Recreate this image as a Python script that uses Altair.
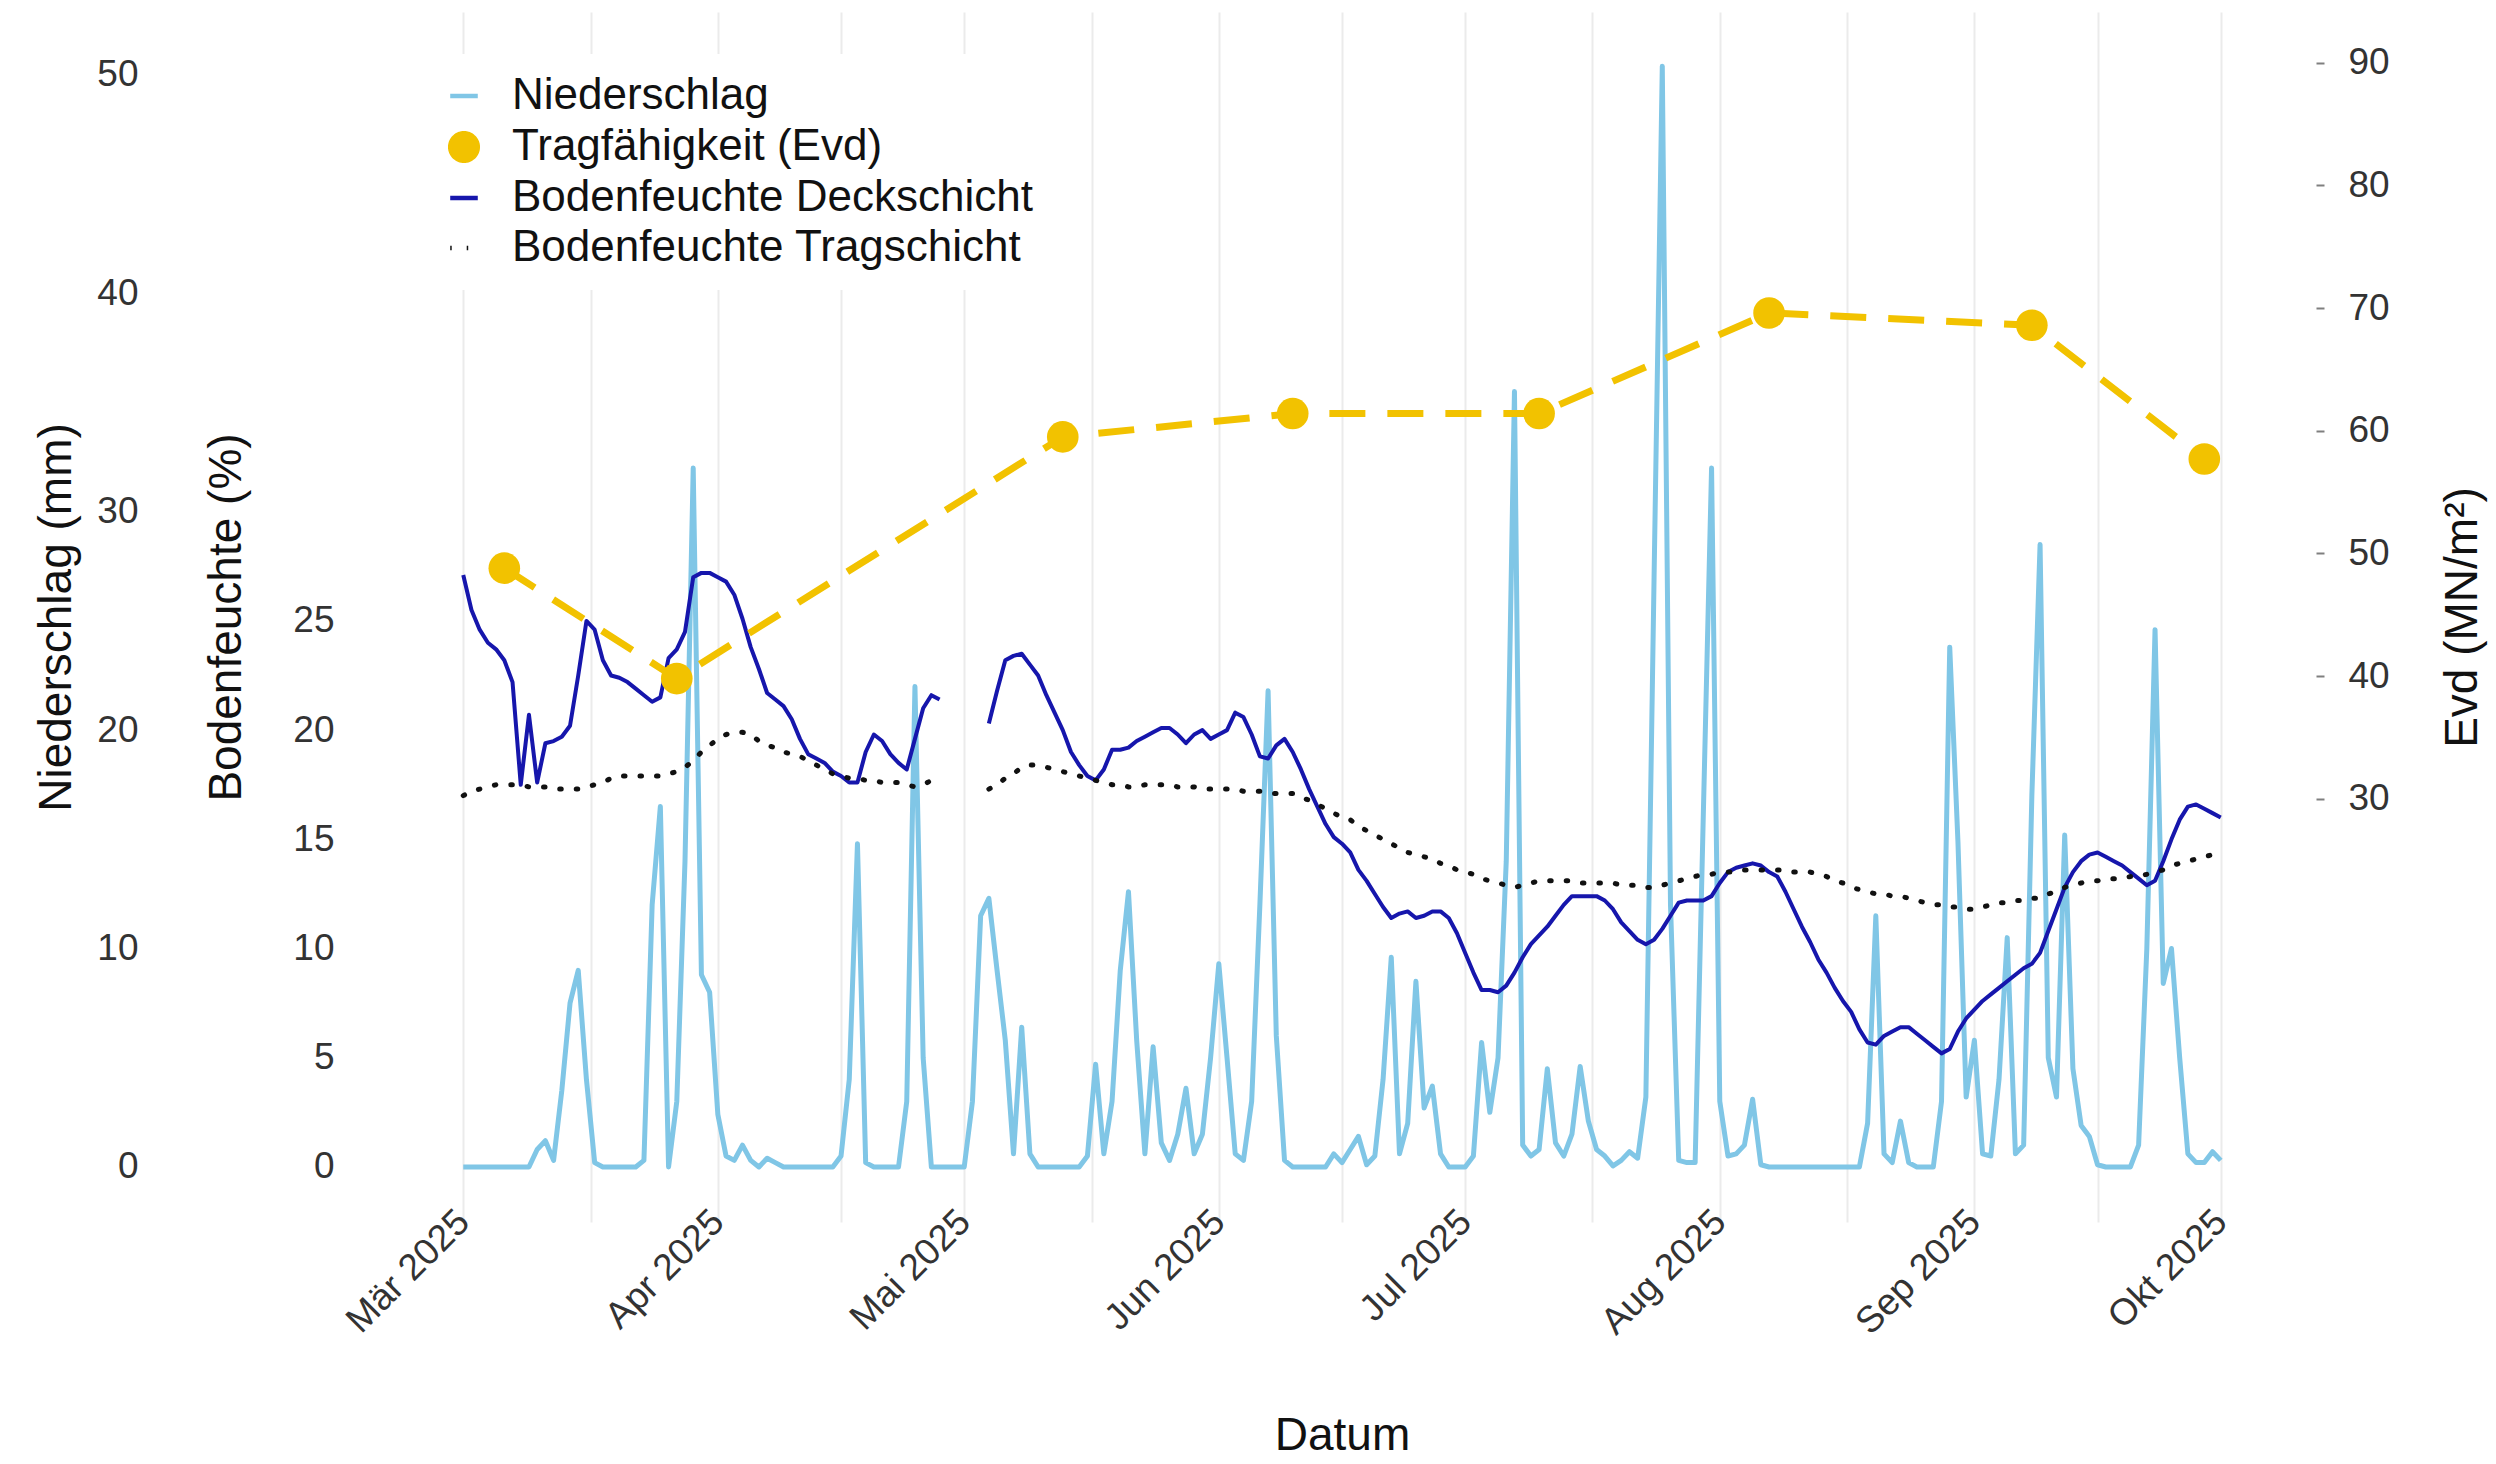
import json
import altair as alt
import pandas as pd

FONT = "Liberation Sans"
START_DATE = "2025-03-01"

SERIES = ["Niederschlag", "Tragfähigkeit (Evd)", "Bodenfeuchte Deckschicht", "Bodenfeuchte Tragschicht"]
COLORS = ["#80C6E6", "#F2C200", "#1616AC", "#111111"]
SHAPES = ["stroke", "circle", "stroke", "stroke"]
DASHES = [[1, 0], [1, 0], [1, 0], [1.5, 15]]
MONTH_NAMES = ["Jan", "Feb", "Mär", "Apr", "Mai", "Jun", "Jul", "Aug", "Sep", "Okt", "Nov", "Dez"]
MM_TICKS = [0, 10, 20, 30, 40, 50]
BF_TICKS = [0, 5, 10, 15, 20, 25]
EVD_TICKS = [30, 40, 50, 60, 70, 80, 90]
# vertical grid lines: month starts (labelled) and mid-months
GRID_MAJOR = ["2025-03-01", "2025-04-01", "2025-05-01", "2025-06-01",
              "2025-07-01", "2025-08-01", "2025-09-01", "2025-10-01"]
GRID_MINOR = ["2025-03-16 12:00", "2025-04-16 00:00", "2025-05-16 12:00", "2025-06-16 00:00",
              "2025-07-16 12:00", "2025-08-16 12:00", "2025-09-16 00:00"]
X_RANGE = ["2025-02-18 09:00", "2025-10-11 15:00"]

# daily precipitation (mm), 1 Mar 2025 .. 1 Oct 2025
precip_mm = [
    0, 0, 0, 0, 0, 0, 0, 0, 0, 0.8,
    1.2, 0.3, 3.5, 7.5, 9.0, 4.0, 0.2, 0, 0, 0,
    0, 0, 0.3, 12.0, 16.5, 0, 3.0, 14.0, 32.0, 8.8,
    8.0, 2.4, 0.5, 0.3, 1.0, 0.3, 0, 0.4, 0.2, 0,
    0, 0, 0, 0, 0, 0, 0.5, 4.0, 14.8, 0.2,
    0, 0, 0, 0, 3.0, 22.0, 5.0, 0, 0, 0,
    0, 0, 3.0, 11.5, 12.3, 9.0, 5.8, 0.6, 6.4, 0.6,
    0, 0, 0, 0, 0, 0, 0.5, 4.7, 0.6, 3.0,
    9.0, 12.6, 5.8, 0.6, 5.5, 1.1, 0.3, 1.5, 3.6, 0.6,
    1.5, 5.0, 9.3, 5.0, 0.6, 0.3, 3.0, 12.0, 21.8, 6.0,
    0.3, 0, 0, 0, 0, 0, 0.6, 0.2, 0.8, 1.4,
    0.1, 0.5, 4.0, 9.6, 0.6, 2.0, 8.5, 2.7, 3.7, 0.6,
    0, 0, 0, 0.5, 5.7, 2.5, 5.0, 14.0, 35.5, 1.0,
    0.5, 0.8, 4.5, 1.1, 0.5, 1.5, 4.6, 2.1, 0.8, 0.5,
    0.05, 0.3, 0.7, 0.4, 3.2, 27.0, 50.4, 12.0, 0.3, 0.2,
    0.2, 16.2, 32.0, 3.0, 0.5, 0.6, 1.0, 3.1, 0.1, 0,
    0, 0, 0, 0, 0, 0, 0, 0, 0, 0,
    0, 2.0, 11.5, 0.6, 0.2, 2.1, 0.2, 0, 0, 0,
    3.0, 23.8, 14.9, 3.2, 5.8, 0.6, 0.5, 4.0, 10.5, 0.6,
    1.0, 17.0, 28.5, 5.0, 3.2, 15.2, 4.5, 1.9, 1.4, 0.1,
    0, 0, 0, 0, 1.0, 10.0, 24.6, 8.4, 10.0, 5.0,
    0.6, 0.2, 0.2, 0.7, 0.3,
]

# soil moisture top layer (%), None = no measurement
deckschicht = [
    27.1, 25.5, 24.6, 24.0, 23.7, 23.2, 22.2, 17.5, 20.7, 17.6,
    19.4, 19.5, 19.7, 20.2, 22.5, 25.0, 24.6, 23.2, 22.5, 22.4,
    22.2, 21.9, 21.6, 21.3, 21.5, 23.3, 23.7, 24.5, 27.0, 27.2,
    27.2, 27.0, 26.8, 26.2, 25.1, 23.8, 22.8, 21.7, 21.4, 21.1,
    20.5, 19.6, 18.9, 18.7, 18.5, 18.1, 17.9, 17.6, 17.6, 19.0,
    19.8, 19.5, 18.9, 18.5, 18.2, 19.6, 21.0, 21.6, 21.4, None,
    None, None, None, None, 20.3, 21.8, 23.2, 23.4, 23.5, 23.0,
    22.5, 21.6, 20.8, 20.0, 19.0, 18.4, 17.9, 17.7, 18.2, 19.1,
    19.1, 19.2, 19.5, 19.7, 19.9, 20.1, 20.1, 19.8, 19.4, 19.8,
    20.0, 19.6, 19.8, 20.0, 20.8, 20.6, 19.8, 18.8, 18.7, 19.3,
    19.6, 19.0, 18.2, 17.3, 16.5, 15.7, 15.1, 14.8, 14.4, 13.6,
    13.1, 12.5, 11.9, 11.4, 11.6, 11.7, 11.4, 11.5, 11.7, 11.7,
    11.4, 10.7, 9.8, 8.9, 8.1, 8.1, 8.0, 8.3, 8.9, 9.6,
    10.2, 10.6, 11.0, 11.5, 12.0, 12.4, 12.4, 12.4, 12.4, 12.2,
    11.8, 11.2, 10.8, 10.4, 10.2, 10.4, 10.9, 11.5, 12.1, 12.2,
    12.2, 12.2, 12.4, 13.0, 13.5, 13.7, 13.8, 13.9, 13.8, 13.5,
    13.3, 12.6, 11.8, 11.0, 10.3, 9.5, 8.9, 8.2, 7.6, 7.1,
    6.3, 5.7, 5.6, 6.0, 6.2, 6.4, 6.4, 6.1, 5.8, 5.5,
    5.2, 5.4, 6.2, 6.8, 7.2, 7.6, 7.9, 8.2, 8.5, 8.8,
    9.1, 9.3, 9.8, 10.8, 11.8, 12.8, 13.5, 14.0, 14.3, 14.4,
    14.2, 14.0, 13.8, 13.5, 13.2, 12.9, 13.1, 14.0, 15.0, 15.9,
    16.5, 16.6, 16.4, 16.2, 16.0,
]

# soil moisture base layer (%)
tragschicht = [
    17.0, 17.2, 17.3, 17.4, 17.5, 17.5, 17.5, 17.5, 17.4, 17.4,
    17.4, 17.3, 17.3, 17.3, 17.3, 17.4, 17.5, 17.6, 17.8, 17.9,
    17.9, 17.9, 17.9, 17.9, 17.9, 18.0, 18.1, 18.3, 18.6, 19.0,
    19.3, 19.6, 19.8, 19.9, 19.9, 19.8, 19.5, 19.3, 19.2, 19.0,
    18.9, 18.8, 18.6, 18.4, 18.2, 18.0, 17.9, 17.8, 17.8, 17.7,
    17.7, 17.6, 17.6, 17.6, 17.5, 17.4, 17.5, 17.7, 17.8, None,
    None, None, None, None, 17.3, 17.5, 17.8, 18.0, 18.3, 18.4,
    18.4, 18.3, 18.2, 18.1, 18.0, 17.9, 17.8, 17.7, 17.6, 17.5,
    17.5, 17.4, 17.4, 17.5, 17.5, 17.5, 17.5, 17.4, 17.4, 17.4,
    17.3, 17.3, 17.3, 17.3, 17.3, 17.2, 17.2, 17.2, 17.1, 17.1,
    17.1, 17.1, 16.9, 16.8, 16.6, 16.4, 16.2, 16.0, 15.9, 15.6,
    15.4, 15.2, 15.0, 14.8, 14.6, 14.4, 14.3, 14.2, 14.1, 13.9,
    13.8, 13.6, 13.5, 13.4, 13.2, 13.1, 13.0, 12.9, 12.8, 12.9,
    13.0, 13.1, 13.1, 13.1, 13.1, 13.1, 13.0, 13.0, 13.0, 13.0,
    13.0, 12.9, 12.9, 12.9, 12.8, 12.8, 12.9, 13.0, 13.1, 13.2,
    13.3, 13.4, 13.4, 13.5, 13.5, 13.5, 13.6, 13.6, 13.6, 13.6,
    13.6, 13.6, 13.5, 13.5, 13.5, 13.4, 13.3, 13.1, 13.0, 12.8,
    12.7, 12.6, 12.5, 12.5, 12.4, 12.4, 12.3, 12.2, 12.1, 12.0,
    12.0, 11.9, 11.9, 11.8, 11.8, 11.9, 12.0, 12.1, 12.1, 12.2,
    12.2, 12.3, 12.3, 12.5, 12.6, 12.8, 12.9, 13.0, 13.1, 13.1,
    13.2, 13.2, 13.2, 13.3, 13.3, 13.4, 13.5, 13.6, 13.8, 13.9,
    14.0, 14.1, 14.2, 14.3, 14.4,
]

# bearing capacity measurements Evd (MN/m²)
evd_dates = ["2025-03-06", "2025-03-27", "2025-05-13", "2025-06-10",
             "2025-07-10", "2025-08-07", "2025-09-08", "2025-09-29"]
evd_values = [48.8, 39.8, 59.5, 61.4, 61.4, 69.6, 68.6, 57.7]

# ---------------------------------------------------------------- layout
PLOT_W, PLOT_H = 1932, 1210
PLOT_L, PLOT_R = 376, 2308
PAD = {"left": PLOT_L - 8, "top": 4, "right": 180, "bottom": 242}
Y_MIN, Y_MAX = -2.52, 52.88          # shared scale of mm and %
EVD_K = 1.78                          # Evd = mm-scale * EVD_K


def utc_ms(s):
    return int(pd.Timestamp(s, tz="UTC").value // 10**6)


days = pd.date_range(START_DATE, periods=len(precip_mm), freq="D")
iso = [d.strftime("%Y-%m-%dT00:00:00Z") for d in days]

df_p = pd.DataFrame({"tag": iso, "wert": precip_mm, "serie": SERIES[0]})


def soil_frame(name, vals):
    rows, seg = [], 0
    for i, v in enumerate(vals):
        if v is None:
            seg = 1
            continue
        rows.append({"tag": iso[i], "wert": v, "serie": name, "abschnitt": f"{name}-{seg}"})
    return pd.DataFrame(rows)


df_deck = soil_frame(SERIES[2], deckschicht)
df_trag = soil_frame(SERIES[3], tragschicht)
df_evd = pd.DataFrame({"tag": [d + "T00:00:00Z" for d in evd_dates], "wert": evd_values, "serie": SERIES[1]})

label_expr = ("utcdate(datum.value) == 1 && utchours(datum.value) == 0 ? "
              + json.dumps(MONTH_NAMES, ensure_ascii=False)
              + "[utcmonth(datum.value)] + ' ' + utcyear(datum.value) : ''")

x_scale = alt.Scale(type="utc", nice=False, domain=[utc_ms(s) for s in X_RANGE])

LBL = dict(labelFont=FONT, labelFontSize=37, labelColor="#333333")
TTL = dict(titleFont=FONT, titleFontSize=46, titleFontWeight="normal", titleColor="#111111")

x_axis = alt.Axis(values=[utc_ms(s) for s in GRID_MAJOR + GRID_MINOR], labelExpr=label_expr,
                  labelAngle=-45, labelAlign="right", labelBaseline="middle", labelPadding=-6,
                  labelFlush=False, labelOverlap=False, ticks=False, domain=False, grid=True,
                  gridColor="#EBEBEB", gridWidth=2, title="Datum", titleY=213,
                  titleBaseline="middle", **LBL, **TTL)

MM_OFFSET = 230
mm_axis = alt.Axis(orient="left", offset=MM_OFFSET, values=MM_TICKS, grid=False, ticks=False, tickSize=0,
                   domain=False, labelPadding=8, title="Niederschlag (mm)", titleAngle=270,
                   titleX=56 - (PLOT_L - MM_OFFSET), titleY=PLOT_H / 2, titleBaseline="middle",
                   titleAlign="center", **LBL, **TTL)
bf_axis = alt.Axis(orient="left", offset=0, values=BF_TICKS, grid=False, ticks=False, tickSize=0,
                   domain=False, labelPadding=42, title="Bodenfeuchte (%)", titleAngle=270,
                   titleX=226 - PLOT_L, titleY=PLOT_H / 2, titleBaseline="middle",
                   titleAlign="center", **LBL, **TTL)
EVD_OFFSET = 8
evd_axis = alt.Axis(orient="right", offset=EVD_OFFSET, values=EVD_TICKS, grid=False, ticks=True,
                    tickSize=8, tickWidth=2, tickColor="#7F7F7F", domain=False, labelPadding=24,
                    title="Evd (MN/m²)", titleAngle=270, titleX=2462 - (PLOT_R + EVD_OFFSET),
                    titleY=PLOT_H / 2, titleBaseline="middle", titleAlign="center", **LBL, **TTL)


def y_scale(k=1.0):
    return alt.Scale(domain=[Y_MIN * k, Y_MAX * k], nice=False, zero=False)


LEGEND = alt.Legend(orient="none", legendX=46, legendY=42, title=None, padding=20,
                    fillColor="white", labelFont=FONT, labelFontSize=44, labelColor="#111111",
                    labelOffset=26, rowPadding=6, symbolSize=760, symbolStrokeWidth=4.5,
                    labelLimit=800)

color = alt.Color("serie:N", scale=alt.Scale(domain=SERIES, range=COLORS), legend=LEGEND)
shape = alt.Shape("serie:N", scale=alt.Scale(domain=SERIES, range=SHAPES), legend=LEGEND)
dash = alt.StrokeDash("serie:N", scale=alt.Scale(domain=SERIES, range=DASHES), legend=LEGEND)
# identical x definition in every layer so that the shared axis merges cleanly
x_enc = alt.X("tag:T", scale=x_scale, axis=x_axis)

precip = alt.Chart(df_p).mark_line(strokeWidth=5, strokeJoin="round").encode(
    x=x_enc, y=alt.Y("wert:Q", scale=y_scale(), axis=mm_axis), color=color,
)
deck = alt.Chart(df_deck).mark_line(strokeWidth=4, strokeJoin="round").encode(
    x=x_enc, y=alt.Y("wert:Q", scale=y_scale(), axis=bf_axis), color=color,
    detail="abschnitt:N",
)
trag = alt.Chart(df_trag).mark_line(strokeWidth=5, strokeCap="round").encode(
    x=x_enc, y=alt.Y("wert:Q", scale=y_scale(), axis=None), color=color,
    strokeDash=dash, detail="abschnitt:N",
)
evd_line = alt.Chart(df_evd).mark_line(strokeWidth=7, strokeDash=[36, 22]).encode(
    x=x_enc, y=alt.Y("wert:Q", scale=y_scale(EVD_K), axis=evd_axis), color=color,
)
evd_pts = alt.Chart(df_evd).mark_point(filled=True, size=1000, opacity=1).encode(
    x=x_enc, y=alt.Y("wert:Q", scale=y_scale(EVD_K), axis=None), color=color, shape=shape,
)

chart = alt.layer(precip, deck, trag, evd_line, evd_pts).resolve_scale(
    y="independent"
).properties(
    width=PLOT_W, height=PLOT_H, padding=PAD, autosize=alt.AutoSizeParams(type="none"),
    background="white",
).configure_view(stroke=None).configure_axis(labelFont=FONT, titleFont=FONT).configure_legend(
    labelFont=FONT
)

chart.save("out.html", embed_options={"renderer": "svg", "actions": False})
